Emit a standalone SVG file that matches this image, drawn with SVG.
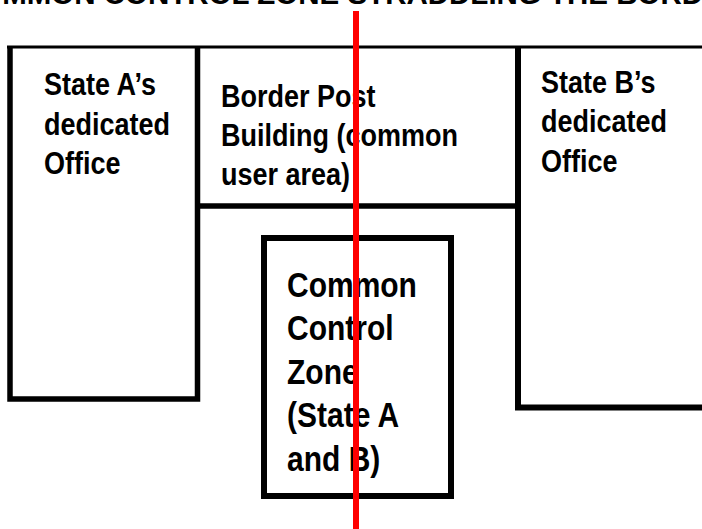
<svg xmlns="http://www.w3.org/2000/svg" width="702" height="529" viewBox="0 0 702 529">
<style>
.t{font-family:"Liberation Sans",Arial,sans-serif;font-weight:bold;fill:#000}
.s{font-size:27px}
.b{font-size:30px}
.w{fill:none;stroke:#000;stroke-linecap:butt}
</style>
<rect width="702" height="529" fill="#fff"/>
<text id="title" class="t" x="351" y="3.5" font-size="29.5" text-anchor="middle">COMMON CONTROL ZONE STRADDLING THE BORDER</text>
<g id="roof"><line class="w" x1="7" y1="47" x2="702" y2="47" stroke-width="3"/></g>
<g id="stateA">
<path class="w" d="M10,47 V399 H197.5 V47" stroke-width="5.5"/>
<text class="t s" transform="matrix(1 0 0 1.13 44 95)">State A’s</text>
<text class="t s" transform="matrix(1 0 0 1.13 44 134.5)">dedicated</text>
<text class="t s" transform="matrix(1 0 0 1.13 44 174)">Office</text>
</g>
<g id="borderPost">
<line class="w" x1="197.5" y1="206" x2="518" y2="206" stroke-width="5.5"/>
<text class="t s" transform="matrix(1 0 0 1.13 221 106.5)">Border Post</text>
<text class="t s" transform="matrix(1 0 0 1.13 221 146)">Building (common</text>
<text class="t s" transform="matrix(1 0 0 1.13 221 185)">user area)</text>
</g>
<g id="stateB">
<path class="w" d="M518,47 V407.5 H702" stroke-width="6"/>
<text class="t s" transform="matrix(1 0 0 1.13 541 93)">State B’s</text>
<text class="t s" transform="matrix(1 0 0 1.13 541 132)">dedicated</text>
<text class="t s" transform="matrix(1 0 0 1.13 541 171.5)">Office</text>
</g>
<g id="commonZone">
<rect class="w" x="264" y="238" width="187" height="258" stroke-width="6"/>
<text class="t b" transform="matrix(1 0 0 1.15 287 296.5)">Common</text>
<text class="t b" transform="matrix(1 0 0 1.15 287 340)">Control</text>
<text class="t b" transform="matrix(1 0 0 1.15 287 383.5)">Zone</text>
<text class="t b" transform="matrix(1 0 0 1.15 287 427)">(State A</text>
<text class="t b" transform="matrix(1 0 0 1.15 287 470.5)">and B)</text>
</g>
<g id="connectors">
<line id="border" x1="356" y1="11" x2="356" y2="529" stroke="#f00" stroke-width="6"/>
</g>
</svg>
